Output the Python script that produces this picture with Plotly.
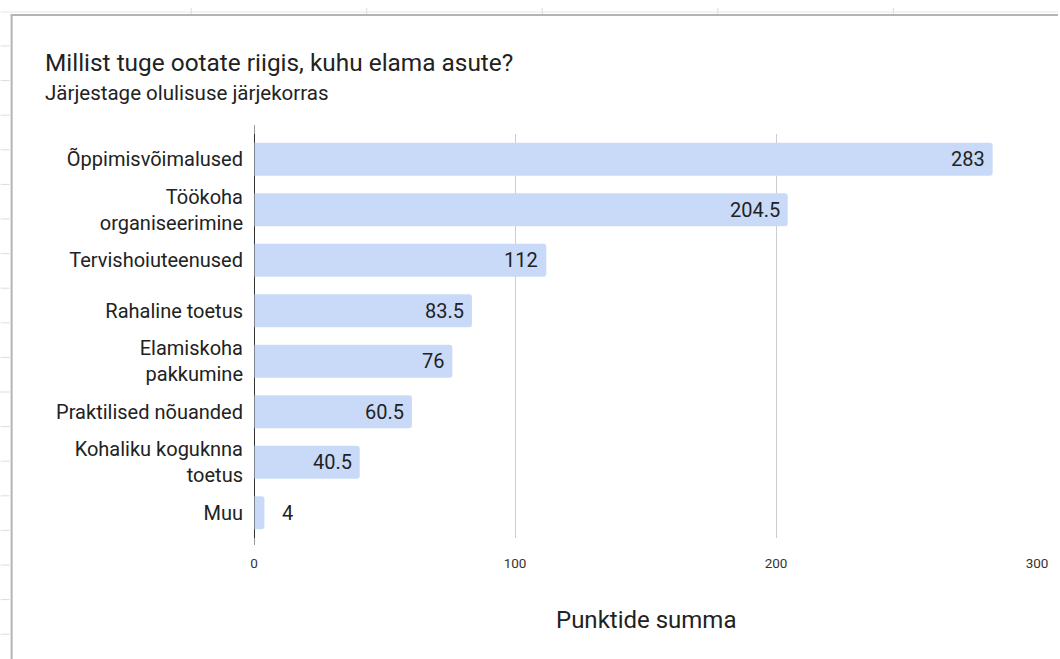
import plotly.graph_objects as go

categories = ["Õppimisvõimalused", "Töökoha<br>organiseerimine", "Tervishoiuteenused",
              "Rahaline toetus", "Elamiskoha<br>pakkumine", "Praktilised nõuanded",
              "Kohaliku koguknna<br>toetus", "Muu"]
values = [283, 204.5, 112, 83.5, 76, 60.5, 40.5, 4]
value_labels = ["283", "204.5", "112", "83.5", "76", "60.5", "40.5", "4"]
x_ticks = [0, 100, 200, 300]

W, H = 1060, 659
L, R, T, B = 254, 21, 134, 121
pw, ph = W - L - R, H - T - B

def px(x):
    return (x - L) / pw

def py(y):
    return (H - B - y) / ph

fig = go.Figure(go.Bar(
    y=categories, x=values, orientation="h",
    marker=dict(color="#c9daf8", line=dict(width=0)),
    marker_cornerradius=3,
    hoverinfo="x+y",
))

fig.update_layout(
    width=W, height=H,
    margin=dict(l=L, r=R, t=T, b=B),
    paper_bgcolor="white", plot_bgcolor="white",
    bargap=0.35,
    showlegend=False,
    font=dict(family="Roboto", color="#222222"),
)
fig.update_yaxes(
    autorange="reversed", tickfont=dict(size=20, color="#222222"),
    ticklabelstandoff=10, showgrid=False, showline=False, ticks="",
)
fig.update_xaxes(
    range=[0, 300], tickvals=x_ticks, tickfont=dict(size=13.5, color="#333333"),
    showgrid=True, gridcolor="#cccccc", gridwidth=1,
    zeroline=True, zerolinecolor="#333333", zerolinewidth=1,
    showline=False, ticks="", ticklabelstandoff=15,
)

# value labels
n = len(values)
for i, (cat, v, lab) in enumerate(zip(categories, values, value_labels)):
    inside = i < n - 1
    fig.add_annotation(x=v, y=cat, xref="x", yref="y", text=lab, showarrow=False,
                       xanchor="right" if inside else "left",
                       xshift=-6 if inside else 16,
                       font=dict(size=20, color="#222222"))

# titles
fig.add_annotation(text="Millist tuge ootate riigis, kuhu elama asute?",
                   xref="paper", yref="paper", x=px(42), y=py(62),
                   xanchor="left", yanchor="middle", showarrow=False,
                   font=dict(size=24.4, color="#222222"))
fig.add_annotation(text="Järjestage olulisuse järjekorras",
                   xref="paper", yref="paper", x=px(42), y=py(93),
                   xanchor="left", yanchor="middle", showarrow=False,
                   font=dict(size=20.5, color="#222222"))
fig.add_annotation(text="Punktide summa",
                   xref="paper", yref="paper", x=0.5, y=py(620),
                   xanchor="center", yanchor="middle", showarrow=False,
                   font=dict(size=24, color="#222222"))

# spreadsheet frame decoration
shapes = []
shapes.append(dict(type="line", xref="paper", yref="paper", x0=px(0), x1=px(W), y0=py(12), y1=py(12),
                   line=dict(color="#e6e6e6", width=1)))
for xv in [191, 367, 543, 719, 895]:
    shapes.append(dict(type="line", xref="paper", yref="paper", x0=px(xv), x1=px(xv), y0=py(8), y1=py(14),
                       line=dict(color="#dddddd", width=1)))
yv = 46
while yv < H:
    shapes.append(dict(type="line", xref="paper", yref="paper", x0=px(0), x1=px(9), y0=py(yv), y1=py(yv),
                       line=dict(color="#dddddd", width=1)))
    yv += 34.6
shapes.append(dict(type="line", xref="paper", yref="paper", x0=px(10), x1=px(W), y0=py(15), y1=py(15),
                   line=dict(color="#b4b4b4", width=2)))
shapes.append(dict(type="line", xref="paper", yref="paper", x0=px(11), x1=px(11), y0=py(15), y1=py(H),
                   line=dict(color="#b4b4b4", width=2)))
shapes.append(dict(type="line", xref="x", yref="paper", x0=0, x1=0, y0=py(545), y1=py(125),
                   line=dict(color="#333333", width=1)))
fig.update_layout(shapes=shapes)

fig.write_html("out.html", config={"displayModeBar": False},
               post_script="document.body.style.margin='0';")
